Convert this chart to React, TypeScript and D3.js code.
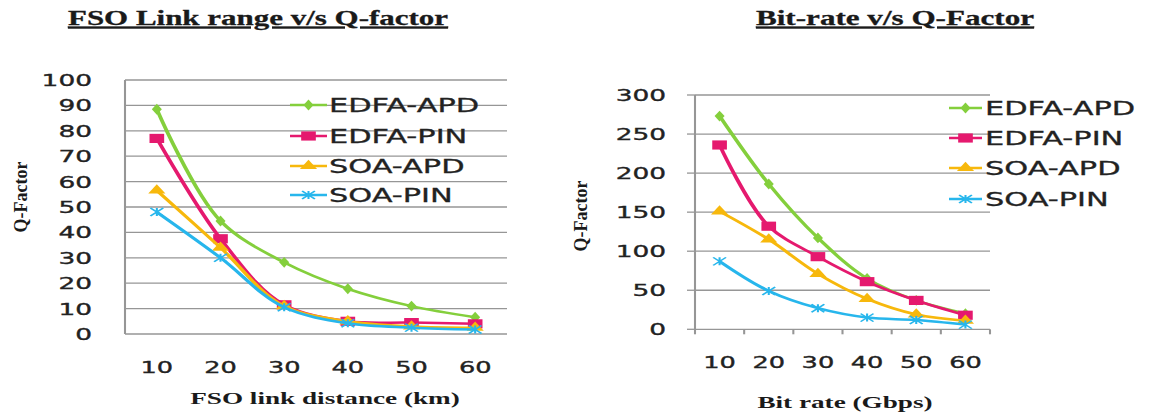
import React from "react";
import * as d3 from "d3";

// ---------- data ----------
const categories = ["10", "20", "30", "40", "50", "60"];
const seriesNames = ["EDFA-APD", "EDFA-PIN", "SOA-APD", "SOA-PIN"];
const seriesColors = ["#84cf3c", "#e5196e", "#f7b80c", "#27b6ec"];
const seriesMarkers = ["diamond", "square", "triangle", "star"];

const fsoEdfaApd = [88.5, 44.5, 28.2, 17.8, 11, 6.6];
const fsoEdfaPin = [77, 37.5, 11.5, 5, 4.5, 4];
const fsoSoaApd = [56.5, 34, 11, 5, 3, 2.5];
const fsoSoaPin = [48, 30, 10.5, 4.2, 2.5, 1.8];
const fsoTicks = [0, 10, 20, 30, 40, 50, 60, 70, 80, 90, 100];

const brEdfaApd = [273, 186, 117, 65, 37, 20];
const brEdfaPin = [236, 132, 93, 61, 37, 18];
const brSoaApd = [151, 115, 71, 39, 19, 11];
const brSoaPin = [87, 49, 27, 15, 12, 6];
const brTicks = [0, 50, 100, 150, 200, 250, 300];

// ---------- layout ----------
const S = 1.6; // horizontal stretch of the reference picture
const VW = 1152 / S;
const H = 414;
const TICK_FONT = "'DejaVu Sans', Verdana, sans-serif";
const SERIF = "'Liberation Serif', 'Times New Roman', serif";

type Cfg = {
  title: string;
  titleX: number;
  titleW: number;
  xTitle: string;
  xTitleX: number;
  xTitleY: number;
  left: number;
  right: number;
  top: number;
  bottom: number;
  yMax: number;
  ticks: number[];
  series: number[][];
  yLabelX: number;
  yTitleX: number;
  yTitleY: number;
  xLabelY: number;
  legX1: number;
  legX2: number;
  legTextX: number;
  legY: number[];
  axisTicks: boolean;
};

function markerPath(kind: string, color: string, x: number, y: number, key: string) {
  if (kind === "diamond") {
    const p = d3.symbol().type(d3.symbolDiamond).size(34)();
    return <path key={key} d={p || ""} transform={`translate(${x},${y})`} fill={color} />;
  }
  if (kind === "square") {
    const p = d3.symbol().type(d3.symbolSquare).size(84)();
    return <path key={key} d={p || ""} transform={`translate(${x},${y})`} fill={color} />;
  }
  if (kind === "triangle") {
    const p = d3.symbol().type(d3.symbolTriangle).size(50)();
    return <path key={key} d={p || ""} transform={`translate(${x},${y})`} fill={color} />;
  }
  const r = 4;
  const d = `M${-r},${-r}L${r},${r}M${-r},${r}L${r},${-r}M0,${-r}L0,${r}`;
  return (
    <path key={key} d={d} transform={`translate(${x},${y})`} stroke={color} strokeWidth={1.3} fill="none" />
  );
}

function Chart({ c }: { c: Cfg }) {
  const x = d3.scaleBand<string>().domain(categories).range([c.left, c.right]).padding(0);
  const y = d3.scaleLinear().domain([0, c.yMax]).range([c.bottom, c.top]);
  const line = d3
    .line<number>()
    .x((_, i) => (x(categories[i]) as number) + x.bandwidth() / 2)
    .y((v) => y(v))
    .curve(d3.curveCatmullRom.alpha(0.5));
  const grid = "#969696";

  return (
    <g>
      <text
        x={c.titleX}
        y={25}
        textAnchor="middle"
        fontFamily={SERIF}
        fontWeight="bold"
        fontSize={21}
        textLength={c.titleW}
        lengthAdjust="spacingAndGlyphs"
        fill="#1a1a1a"
        stroke="#1a1a1a"
        strokeWidth={0.3}
        style={{ textDecoration: "underline" }}
      >
        {c.title}
      </text>
      {/* gridlines */}
      {c.ticks.map((t) => (
        <line key={"g" + t} x1={c.left} x2={c.right} y1={y(t)} y2={y(t)} stroke={grid} strokeWidth={1.3} />
      ))}
      {/* axes */}
      <line x1={c.left} x2={c.left} y1={c.top} y2={c.bottom} stroke={grid} strokeWidth={1.3} />
      {c.axisTicks &&
        c.ticks.map((t) => (
          <line key={"yt" + t} x1={c.left - 5} x2={c.left} y1={y(t)} y2={y(t)} stroke={grid} strokeWidth={1.3} />
        ))}
      {c.axisTicks &&
        [...categories.map((k) => x(k) as number), c.right].map((p, i) => (
          <line key={"xt" + i} x1={p} x2={p} y1={c.bottom} y2={c.bottom + 5} stroke={grid} strokeWidth={1.3} />
        ))}
      {/* y labels */}
      {c.ticks.map((t) => (
        <text
          key={"yl" + t}
          x={c.yLabelX}
          y={y(t)}
          dy="0.36em"
          textAnchor="end"
          fontFamily={TICK_FONT}
          fontSize={16.5}
          fill="#222"
          stroke="#222"
          strokeWidth={0.35}
        >
          {t}
        </text>
      ))}
      {/* x labels */}
      {categories.map((k) => (
        <text
          key={"xl" + k}
          x={(x(k) as number) + x.bandwidth() / 2}
          y={c.xLabelY}
          dy="0.36em"
          textAnchor="middle"
          fontFamily={TICK_FONT}
          fontSize={16}
          fill="#222"
          stroke="#222"
          strokeWidth={0.35}
        >
          {k}
        </text>
      ))}
      {/* y title */}
      <text
        transform={`translate(${c.yTitleX},${c.yTitleY}) scale(${1 / S},1) rotate(-90)`}
        textAnchor="middle"
        dy="0.35em"
        fontFamily={SERIF}
        fontWeight="bold"
        fontSize={18}
        fill="#1a1a1a"
      >
        Q-Factor
      </text>
      {/* x title */}
      <text
        x={c.xTitleX}
        y={c.xTitleY}
        textAnchor="middle"
        fontFamily={SERIF}
        fontWeight="bold"
        fontSize={17}
        fill="#1a1a1a"
      >
        {c.xTitle}
      </text>
      {/* series */}
      {c.series.map((vals, si) => (
        <g key={"s" + si}>
          <path d={line(vals) || ""} fill="none" stroke={seriesColors[si]} strokeWidth={2.5} />
          {vals.map((v, i) =>
            markerPath(
              seriesMarkers[si],
              seriesColors[si],
              (x(categories[i]) as number) + x.bandwidth() / 2,
              y(v),
              "m" + si + "-" + i
            )
          )}
        </g>
      ))}
      {/* legend */}
      {seriesNames.map((n, si) => (
        <g key={"lg" + si}>
          <line x1={c.legX1} x2={c.legX2} y1={c.legY[si]} y2={c.legY[si]} stroke={seriesColors[si]} strokeWidth={2.5} />
          {markerPath(seriesMarkers[si], seriesColors[si], (c.legX1 + c.legX2) / 2, c.legY[si], "lm" + si)}
          <text
            x={c.legTextX}
            y={c.legY[si]}
            dy="0.36em"
            fontFamily={TICK_FONT}
            fontSize={19}
            fill="#222"
            stroke="#222"
            strokeWidth={0.3}
          >
            {n}
          </text>
        </g>
      ))}
    </g>
  );
}

const leftCfg: Cfg = {
  title: "FSO Link range v/s Q-factor",
  titleX: 258 / S,
  titleW: 380 / S,
  xTitle: "FSO link distance (km)",
  xTitleX: 325 / S,
  xTitleY: 404,
  left: 125 / S,
  right: 507 / S,
  top: 80,
  bottom: 334,
  yMax: 100,
  ticks: fsoTicks,
  series: [fsoEdfaApd, fsoEdfaPin, fsoSoaApd, fsoSoaPin],
  yLabelX: 92 / S,
  yTitleX: 21 / S,
  yTitleY: 197,
  xLabelY: 367,
  legX1: 290 / S,
  legX2: 327 / S,
  legTextX: 329 / S,
  legY: [105, 136, 166, 195],
  axisTicks: false,
};

const rightCfg: Cfg = {
  title: "Bit-rate v/s Q-Factor",
  titleX: 895 / S,
  titleW: 278 / S,
  xTitle: "Bit rate (Gbps)",
  xTitleX: 845 / S,
  xTitleY: 408,
  left: 695 / S,
  right: 990 / S,
  top: 95,
  bottom: 329.3,
  yMax: 300,
  ticks: brTicks,
  series: [brEdfaApd, brEdfaPin, brSoaApd, brSoaPin],
  yLabelX: 666 / S,
  yTitleX: 581 / S,
  yTitleY: 216,
  xLabelY: 362,
  legX1: 949 / S,
  legX2: 982 / S,
  legTextX: 985 / S,
  legY: [108, 138, 168, 199],
  axisTicks: true,
};

export default function App() {
  return (
    <svg
      width={1152}
      height={414}
      viewBox={`0 0 ${VW} ${H}`}
      preserveAspectRatio="none"
      style={{ position: "absolute", left: 0, top: 0, background: "#fff" }}
    >
      <rect x={0} y={0} width={VW} height={H} fill="#fff" />
      <Chart c={leftCfg} />
      <Chart c={rightCfg} />
    </svg>
  );
}
